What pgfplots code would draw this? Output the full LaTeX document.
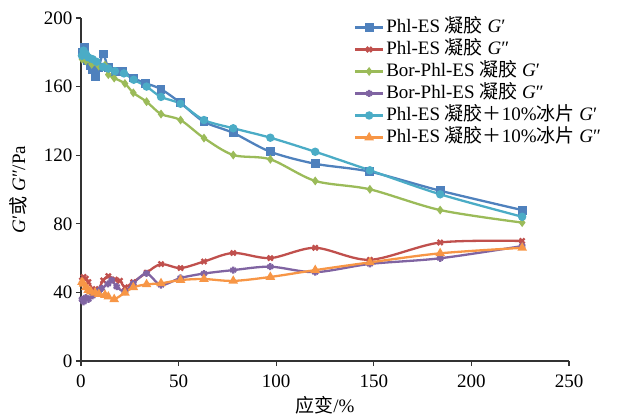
\documentclass[border=0pt]{standalone}
\usepackage{fontspec}
\setmainfont{Liberation Serif}
\newfontfamily\cjk{Noto Sans CJK SC}
\usepackage{pgfplots}
\pgfplotsset{compat=1.18}

\definecolor{c1}{HTML}{4F81BD}
\definecolor{c2}{HTML}{C0504D}
\definecolor{c3}{HTML}{9BBB59}
\definecolor{c4}{HTML}{8064A2}
\definecolor{c5}{HTML}{4BACC6}
\definecolor{c6}{HTML}{F79646}

\newcommand{\fs}{\fontsize{19}{21}\selectfont}

\begin{document}
\begin{tikzpicture}
\begin{axis}[
    width=488pt, height=343pt, scale only axis,
    xmin=0, xmax=250, ymin=0, ymax=200,
    xtick={0,50,...,250}, ytick={0,40,...,200},
    axis lines=left,
    axis line style={-, line width=1.1pt, black!80},
    tick align=outside,
    major tick length=5pt,
    tick style={line width=1.1pt, black!80},
    ticklabel style={font=\fs},
    xticklabel style={yshift=-5pt},
    /pgf/number format/assume math mode=true,
    clip=false,
    xlabel={{\cjk 应变}/\%},
    ylabel={\textit{G}′{\cjk 或} \textit{G}″/Pa},
    xlabel style={font=\fs, at={(axis description cs:0.5,-0.128)}, anchor=center},
    ylabel style={font=\fs, at={(axis description cs:-0.129,0.5)}, anchor=center},
    legend cell align=left,
    legend style={at={(axis description cs:0.559,1.005)}, anchor=north west,
        draw=none, fill=none, font=\fs, inner sep=0pt, row sep=0pt,
        nodes={inner ysep=1pt, text height=14.8pt, text depth=5.2pt}},
    legend image code/.code={\draw[mark repeat=2,mark phase=2]
        plot coordinates {(0pt,0pt)(14pt,0pt)(28pt,0pt)};},
    every axis plot/.append style={smooth, tension=0.5, line width=2.3pt},
]
\addplot[c1, mark=square*, mark size=3.3pt] coordinates {
(0.8,180) (1.6,183) (3.1,175) (4.8,172) (5.9,170) (7.3,166) (9.1,171)
(11.3,179) (14,171) (17.4,169) (21.5,169) (26.7,165) (33.1,162) (41,158.5)
(51,150.5) (63,139.5) (78,133) (97,122) (120,115) (148,110.4) (184,99.3) (226,88)};
\addlegendentry{Phl-ES {\cjk 凝胶} \textit{G}′}
\addplot[c2, mark=x, mark size=3.5pt] coordinates {
(0.5,47) (1.3,49) (2.5,48) (3.8,46) (5.9,42) (7.3,40.5) (9.1,42) (11.3,47)
(14,49.5) (17.4,47.5) (20,46.8) (22.5,43) (26.7,46) (33.6,51.5) (41,56.5)
(51,54.2) (63,58) (78,63) (97,60) (120,66) (148,59) (184,69.1) (226,70)};
\addlegendentry{Phl-ES {\cjk 凝胶} \textit{G}″}
\addplot[c3, mark=diamond*, mark size=2.6pt] coordinates {
(0.5,176) (1.3,177) (2.5,175) (3.8,176) (5.5,173) (7.2,174.5) (9.1,172)
(12.3,172.5) (14,167) (17,165) (22.5,161.8) (26.8,156.4) (33.6,151.2) (41,144)
(51,140.5) (63,130) (78,120.1) (97,117.6) (120,105) (148,100.1) (184,88) (226,80.7)};
\addlegendentry{Bor-Phl-ES {\cjk 凝胶} \textit{G}′}
\addplot[c4, mark=asterisk, mark size=3.5pt] coordinates {
(0.5,36) (1.3,34.5) (2.5,37) (3.8,36) (5.9,38) (7.3,40) (9.1,41) (10.6,42.4)
(13.8,45) (15.7,47.2) (18.3,43.3) (22.5,40.4) (26.8,45.3) (33.6,51.1) (41,44.3)
(51,48.4) (63,51) (78,53) (97,55) (120,51.8) (148,56.6) (184,59.9) (226,67)};
\addlegendentry{Bor-Phl-ES {\cjk 凝胶} \textit{G}″}
\addplot[c5, mark=*, mark size=3pt] coordinates {
(0.5,178) (1.3,181) (2.5,179) (3.8,177) (5.9,176) (8,174.5) (11.3,171.5)
(14,170.5) (17.4,169) (22,167.7) (27,164) (33.6,160) (41,154) (51,150)
(63,140.5) (78,135.7) (97,130.2) (120,122) (148,111.2) (184,97.2) (226,84.1)};
\addlegendentry{Phl-ES {\cjk 凝胶＋}10\%{\cjk 冰片} \textit{G}′}
\addplot[c6, mark=triangle*, mark size=3.3pt] coordinates {
(0.5,46) (1.3,45) (2.5,43) (3.7,41.4) (5,40.5) (7.2,39.8) (9.1,39) (12.3,38.5)
(14,37.5) (17,36) (22.5,39.8) (26.8,43) (33.6,44.7) (41,45.3) (51,47.2)
(63,47.8) (78,46.7) (97,49) (120,53) (148,57.5) (184,62.8) (226,66)};
\addlegendentry{Phl-ES {\cjk 凝胶＋}10\%{\cjk 冰片} \textit{G}″}
\end{axis}
\pgfresetboundingbox
\path (-81pt,-55pt) rectangle (538pt,361pt);
\end{tikzpicture}
\end{document}
